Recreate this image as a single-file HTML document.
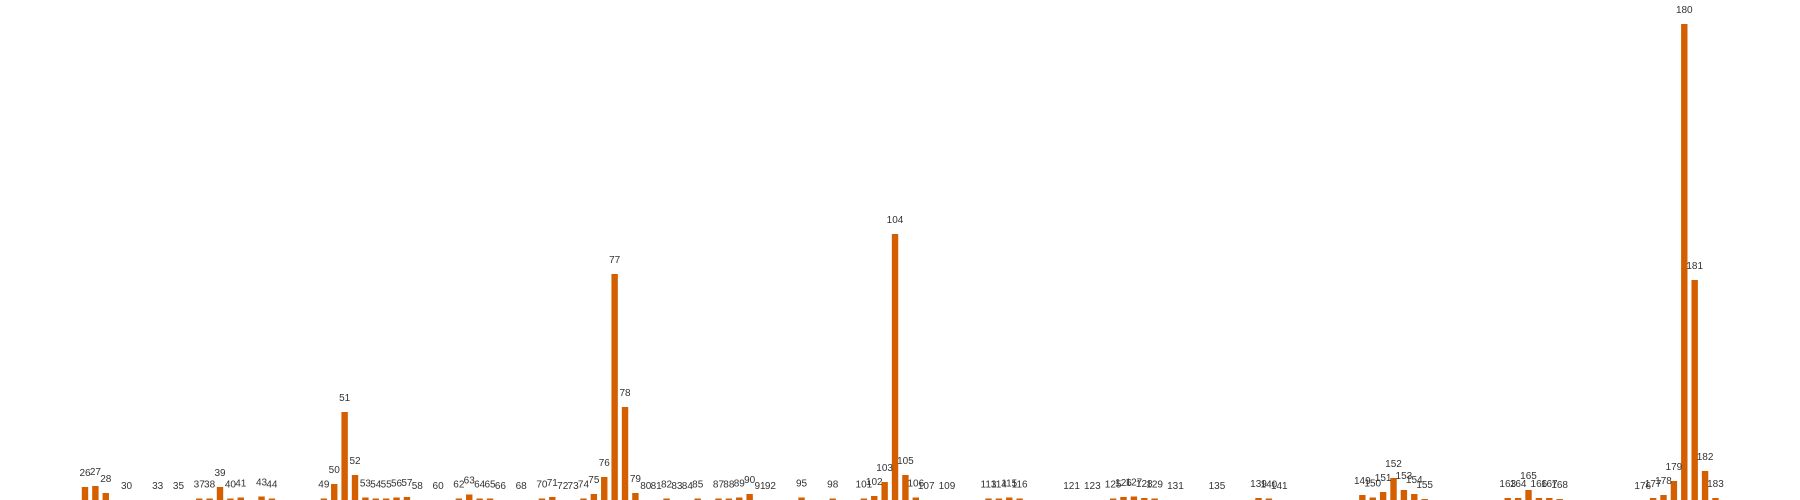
<!DOCTYPE html>
<html><head><meta charset="utf-8">
<style>
html,body{margin:0;padding:0;background:#fff;}
svg{display:block;}
text{font-family:"Liberation Sans",sans-serif;font-size:10px;fill:#333;}
</style></head>
<body>
<svg id="chart" width="1800" height="500" viewBox="0 0 1800 500" xmlns="http://www.w3.org/2000/svg">
<g id="bars"></g>
<g id="labels"></g>
</svg>
<script>
const categories = [26,27,28,30,33,35,37,38,39,40,41,43,44,49,50,51,52,53,54,55,56,57,58,60,62,63,64,65,66,68,70,71,72,73,74,75,76,77,78,79,80,81,82,83,84,85,87,88,89,90,91,92,95,98,101,102,103,104,105,106,107,109,113,114,115,116,121,123,125,126,127,128,129,131,135,139,140,141,149,150,151,152,153,154,155,163,164,165,166,167,168,176,177,178,179,180,181,182,183];
const values = [13,14,7,0,0,0,1.5,1.5,13,1.5,2.5,3.5,1.5,1.5,16,88,25,2.5,1.5,1.5,2.5,3,0,0,1.5,5.5,1.5,1.5,0,0,1.5,3,0,0,1.5,6,23,226,93,7,0,0,1.5,0,0,1.5,1.5,1.5,2.5,6,0,0,2.5,1.5,1.5,4,18,266,25,2.5,0,0,1.5,1.5,2.5,1.5,0,0,1.5,3,3.5,2,1.5,0,0,2,1.5,0,5,2.5,8,22,10,6,1,2,2,10,2,2,1,0,2,5,19,476,220,29,2];
const yMax = 476;

const NS = "http://www.w3.org/2000/svg";
const x = c => 85 + (c - 26) * 10.385;
const baseY = 500, plotH = 476;
const y = v => baseY - v / yMax * plotH;
const bw = 6.4;
const gb = document.getElementById('bars'), gl = document.getElementById('labels');
categories.forEach((c, i) => {
  const v = values[i];
  const r = document.createElementNS(NS, 'rect');
  
  
  r.setAttribute('x', x(c) - bw / 2);
  r.setAttribute('y', y(v));
  r.setAttribute('width', bw);
  r.setAttribute('height', baseY - y(v));
  r.setAttribute('fill', '#d45f00');
  gb.appendChild(r);
  const t = document.createElementNS(NS, 'text');
  
  
  t.setAttribute('x', x(c));
  t.setAttribute('y', y(v) - 11);
  t.setAttribute('text-anchor', 'middle');
  t.textContent = c;
  gl.appendChild(t);
});
</script>
</body></html>
